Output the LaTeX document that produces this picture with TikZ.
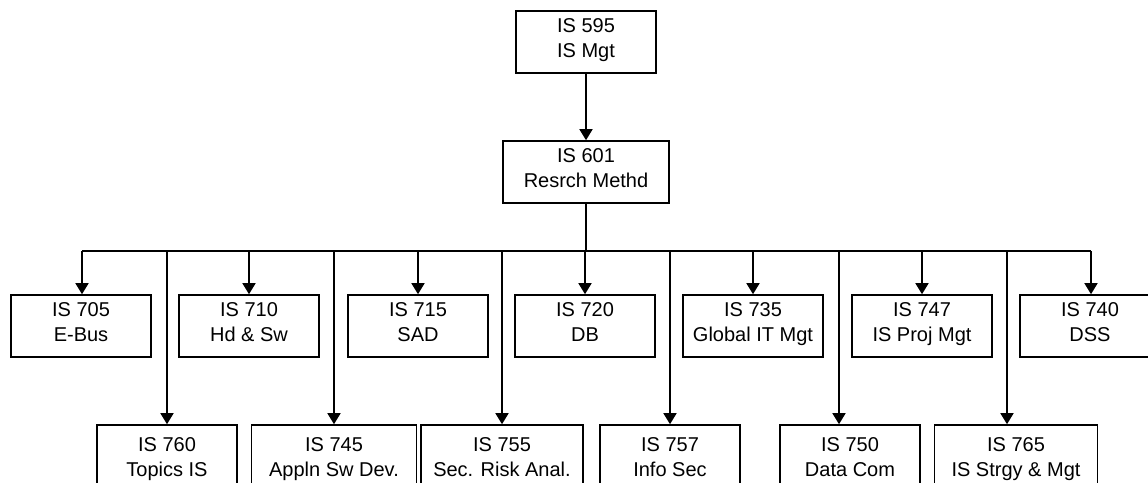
\documentclass[tikz,border=0pt]{standalone}
\usepackage{fontspec}
\setmainfont{Liberation Sans}
\usetikzlibrary{positioning,arrows.meta}

\tikzset{
  course/.style={draw,line width=1.6pt,minimum width=140pt,minimum height=62pt,
    inner sep=1pt,align=center,font=\fontsize{20}{25}\selectfont,
    execute at begin node=\strut,execute at end node=\strut},
  lower/.style={minimum height=72pt},
  link/.style={line width=1.6pt},
  drop/.style={line width=1.6pt,-{Triangle[width=13pt,length=11pt]}}
}

\begin{document}
\begin{tikzpicture}[x=1pt,y=-1pt]
\clip (0,0) rectangle (1148,482);

\node (is595) [course] at (586,42) {IS 595\\IS Mgt};
\node (is601) [course,minimum width=166pt] at (586,172) {IS 601\\Resrch Methd};

% first row
\node (is705) [course] at (81,326) {IS 705\\E-Bus};
\node (is710) [course] at (249,326) {IS 710\\Hd \& Sw};
\node (is715) [course] at (418,326) {IS 715\\SAD};
\node (is720) [course] at (585,326) {IS 720\\DB};
\node (is735) [course] at (753,326) {IS 735\\Global IT Mgt};
\node (is747) [course] at (922,326) {IS 747\\IS Proj Mgt};
\node (is740) [course] at (1090,326) {IS 740\\DSS};

% second row (cut off at the bottom)
\node (is760) [course,lower] at (167,461) {IS 760\\Topics IS};
\node (is745) [course,lower,minimum width=165pt] at (334,461) {IS 745\\Appln Sw Dev.};
\node (is755) [course,lower,minimum width=162pt] at (502,461) {IS 755\\Sec. Risk Anal.};
\node (is757) [course,lower] at (670,461) {IS 757\\Info Sec};
\node (is750) [course,lower] at (850,461) {IS 750\\Data Com};
\node (is765) [course,lower,minimum width=163pt] at (1016,461) {IS 765\\IS Strgy \& Mgt};

\coordinate (bus) at (586,251);
\coordinate (d705) at (82,251);
\coordinate (d740) at (1091,251);
\coordinate (d750) at (839,251);
\coordinate (d765) at (1007,251);

\draw[drop] (is595) -- (is601);
\draw[link] (is601) -- (bus);
\draw[link] (d705) -- (d740);

\draw[drop] (d705) -- (d705 |- is705.north);
\draw[drop] (bus -| is710) -- (is710);
\draw[drop] (bus -| is715) -- (is715);
\draw[drop] (bus -| is720) -- (is720);
\draw[drop] (bus -| is735) -- (is735);
\draw[drop] (bus -| is747) -- (is747);
\draw[drop] (d740) -- (d740 |- is740.north);

\draw[drop] (bus -| is760) -- (is760);
\draw[drop] (bus -| is745) -- (is745);
\draw[drop] (bus -| is755) -- (is755);
\draw[drop] (bus -| is757) -- (is757);
\draw[drop] (d750) -- (d750 |- is750.north);
\draw[drop] (d765) -- (d765 |- is765.north);
\end{tikzpicture}
\end{document}
